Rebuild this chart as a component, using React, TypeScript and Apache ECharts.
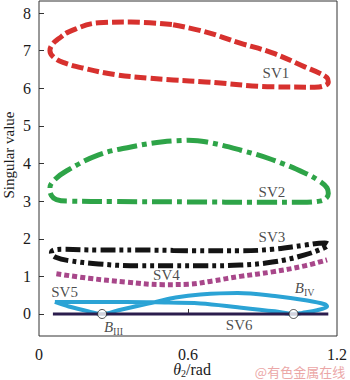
import React, { useEffect, useRef } from "react";
import * as echarts from "echarts";

// ---- data ----
const xTickLabels = [0, 0.6, 1.2];
const xTickMarks = [0.6];
const yTickLabels = [0, 1, 2, 3, 4, 5, 6, 7, 8];

const sv1X = [0.54, 0.67, 0.81, 0.94, 1.07, 1.13, 1.16, 1.165, 1.15, 1.11, 0.94, 0.67, 0.54, 0.44, 0.31, 0.175, 0.1, 0.06, 0.044, 0.055, 0.08, 0.12, 0.24, 0.37, 0.54];
const sv1Y = [7.69, 7.5, 7.2, 6.94, 6.57, 6.4, 6.28, 6.17, 6.07, 6.03, 6.04, 6.17, 6.22, 6.27, 6.36, 6.54, 6.68, 6.82, 7.0, 7.18, 7.32, 7.5, 7.74, 7.76, 7.69];

const sv2X = [0.6, 0.67, 0.81, 0.94, 1.07, 1.13, 1.16, 1.165, 1.155, 1.13, 1.05, 0.9, 0.6, 0.3, 0.12, 0.07, 0.05, 0.044, 0.06, 0.11, 0.24, 0.37, 0.5, 0.6];
const sv2Y = [4.62, 4.58, 4.36, 4.1, 3.75, 3.53, 3.35, 3.2, 3.07, 3.0, 2.97, 2.97, 2.98, 2.99, 3.0, 3.04, 3.15, 3.35, 3.55, 3.8, 4.23, 4.44, 4.58, 4.62];

const sv3X = [0.54, 0.67, 0.81, 0.94, 1.07, 1.15, 1.165, 1.155, 1.07, 0.94, 0.81, 0.67, 0.54, 0.4, 0.24, 0.12, 0.07, 0.05, 0.06, 0.1, 0.24, 0.4, 0.54];
const sv3Y = [1.69, 1.68, 1.68, 1.72, 1.83, 1.89, 1.85, 1.78, 1.57, 1.38, 1.3, 1.28, 1.28, 1.28, 1.33, 1.42, 1.5, 1.62, 1.7, 1.72, 1.7, 1.7, 1.69];

const sv4X = [0.07, 0.2, 0.35, 0.5, 0.6, 0.7, 0.81, 0.94, 1.07, 1.16];
const sv4Y = [1.07, 0.95, 0.85, 0.78, 0.79, 0.88, 1.0, 1.12, 1.28, 1.44];

const sv5X = [0.064, 0.12, 0.2, 0.254, 0.32, 0.4, 0.47, 0.55, 0.65, 0.8, 0.95, 1.08, 1.15, 1.16, 1.12, 1.06, 1.025, 0.95, 0.8, 0.65, 0.47, 0.35, 0.2, 0.064];
const sv5Y = [0.32, 0.2, 0.07, 0.0, 0.1, 0.22, 0.32, 0.44, 0.52, 0.56, 0.48, 0.36, 0.26, 0.2, 0.1, 0.03, 0.0, 0.07, 0.18, 0.28, 0.31, 0.32, 0.32, 0.32];

const sv6X = [0.056, 1.165];
const sv6Y = [0, 0];

const bifX = [0.254, 1.025];
const bifY = [0, 0];

const labelText = ["SV1", "SV2", "SV3", "SV4", "SV5", "SV6", "{b|B}{s|III}", "{b|B}{s|IV}"];
const labelX = [0.954, 0.938, 0.938, 0.513, 0.103, 0.806, 0.3, 1.07];
const labelY = [6.41, 3.24, 2.05, 1.04, 0.58, -0.29, -0.35, 0.69];

const zip = (xs: number[], ys: number[]) => xs.map((x, i) => [x, ys[i]]);

const SERIF = "Liberation Serif";
const TXT = "#1a1a1a";

export default function App() {
  const ref = useRef<HTMLDivElement>(null);
  useEffect(() => {
    if (!ref.current) return;
    const chart = echarts.init(ref.current, null, { renderer: "svg" });
    const lineBase = (data: number[][], color: string, width: number, dash: any) => ({
      type: "line",
      data,
      showSymbol: false,
      symbol: "none",
      smooth: 0.4,
      silent: true,
      lineStyle: { color, width, type: dash, cap: "butt", join: "round" },
      z: 3,
    });
    const rich = {
      b: { fontFamily: SERIF, fontSize: 15, fontStyle: "italic", color: TXT },
      s: { fontFamily: SERIF, fontSize: 10, color: TXT, padding: [9, 0, 0, 0] },
    };
    chart.setOption({
      animation: false,
      textStyle: { fontFamily: SERIF },
      grid: {
        left: 39,
        right: 9,
        top: 1,
        bottom: 44,
        show: true,
        borderColor: "#333",
        borderWidth: 1,
        backgroundColor: "transparent",
      },
      xAxis: {
        type: "value",
        min: 0,
        max: 1.2,
        splitLine: { show: false },
        axisLine: { show: false },
        axisTick: { show: true, inside: true, length: 5, customValues: xTickMarks, lineStyle: { color: "#333" } },
        axisLabel: {
          customValues: xTickLabels,
          margin: 10,
          fontFamily: SERIF,
          fontSize: 16,
          color: TXT,
          formatter: (v: number) => String(v),
        },
      },
      yAxis: {
        type: "value",
        min: -0.585,
        max: 8.32,
        splitLine: { show: false },
        axisLine: { show: false },
        axisTick: { show: true, inside: true, length: 5, customValues: yTickLabels, lineStyle: { color: "#333" } },
        axisLabel: {
          customValues: yTickLabels,
          margin: 8,
          fontFamily: SERIF,
          fontSize: 16,
          color: TXT,
          formatter: (v: number) => String(v),
        },
      },
      series: [
        lineBase(zip(sv1X, sv1Y), "#d7312e", 5, [12, 4]),
        lineBase(zip(sv2X, sv2Y), "#2ea448", 5, [20, 5, 5, 5]),
        lineBase(zip(sv3X, sv3Y), "#141414", 5, [15, 4, 4, 4, 4, 4]),
        lineBase(zip(sv4X, sv4Y), "#a8478a", 5, [5, 3]),
        { ...lineBase(zip(sv5X, sv5Y), "#2ba3d5", 4, "solid"), smooth: 0.35 },
        lineBase(zip(sv6X, sv6Y), "#2b1d4d", 3, "solid"),
        {
          type: "scatter",
          data: zip(bifX, bifY),
          symbol: "circle",
          symbolSize: 9,
          silent: true,
          itemStyle: { color: "#fff", borderColor: "#222", borderWidth: 1 },
          z: 5,
        },
        {
          type: "scatter",
          data: labelText.map((t, i) => ({ value: [labelX[i], labelY[i]], name: t })),
          symbolSize: 0,
          silent: true,
          label: {
            show: true,
            position: "inside",
            formatter: (p: any) => p.name,
            fontFamily: SERIF,
            fontSize: 15,
            color: TXT,
            rich,
          },
          z: 6,
        },
      ],
      graphic: [
        {
          type: "text",
          x: 9,
          y: 155,
          rotation: Math.PI / 2,
          style: {
            text: "Singular value",
            fontFamily: SERIF,
            fontSize: 15,
            fill: TXT,
            textAlign: "center",
            textVerticalAlign: "middle",
          },
        },
        {
          type: "text",
          x: 192,
          y: 369,
          style: {
            text: "{t|θ}{s|2}{r|/rad}",
            textAlign: "center",
            textVerticalAlign: "middle",
            rich: {
              t: { fontFamily: SERIF, fontSize: 16, fontStyle: "italic", fill: TXT },
              s: { fontFamily: SERIF, fontSize: 10, fill: TXT, padding: [8, 0, 0, 0] },
              r: { fontFamily: SERIF, fontSize: 16, fill: TXT },
            },
          },
        },
        {
          type: "text",
          x: 300,
          y: 371,
          style: {
            text: "@有色金属在线",
            fontFamily: "Noto Sans CJK SC",
            fontSize: 13,
            fill: "#eba7a7",
            textAlign: "center",
            textVerticalAlign: "middle",
          },
        },
      ],
    });
    return () => chart.dispose();
  }, []);
  return (
    <div
      ref={ref}
      style={{ position: "fixed", left: 0, top: 0, width: 350, height: 380, background: "#fff" }}
    />
  );
}
